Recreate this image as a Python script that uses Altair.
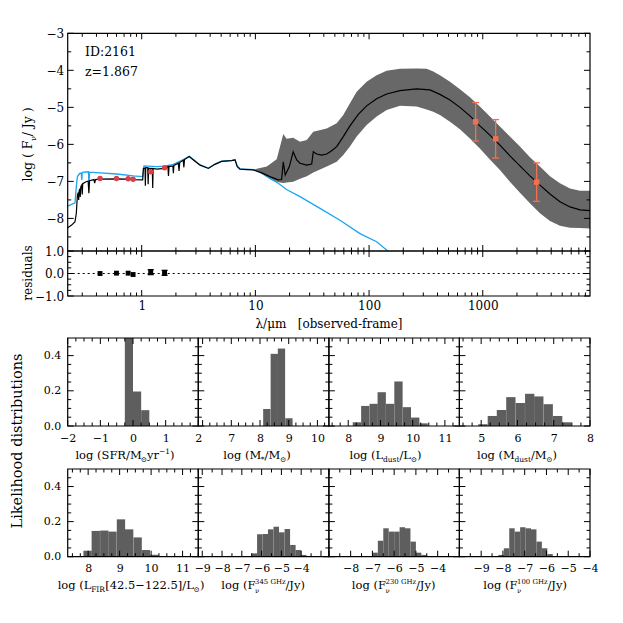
import math
import altair as alt
import pandas as pd

FONT = "DejaVu Serif"
W, H = 605, 600

# ---------------- layout (view pixels) ----------------
X0, X1 = 59.7, 582.0
TOP_Y0, TOP_Y1 = 25.3, 243.0
RES_Y0, RES_Y1 = 243.0, 288.0
COLS = [59.7, 190.3, 320.9, 451.4, 582.0]
ROWS = [(330.0, 418.0), (461.0, 548.7)]
MAJ, MIN = 6.0, 3.5

# ---------------- SED data ----------------
obj_id = "ID:2161"
obj_z = "z=1.867"

sed_lam = [0.2234, 0.242, 0.259, 0.266, 0.272, 0.277, 0.279, 0.282, 0.286, 0.288, 0.291, 0.297, 0.300, 0.303,
           0.324, 0.338, 0.343, 0.348, 0.380, 0.386, 0.392, 0.430, 0.603, 0.762, 0.843, 1.02,
           1.035, 1.07, 1.077, 1.085, 1.13, 1.14, 1.15, 1.24, 1.25, 1.26, 1.355, 1.59,
           1.70, 1.72, 1.74, 1.88, 1.90, 1.92, 2.10, 2.13, 2.16, 2.32, 2.35, 2.38, 2.62, 2.85,
           3.26, 3.86, 4.41, 5.05, 6.19, 6.62, 6.93, 7.32, 8.38, 9.59, 11.4, 13.4, 15.9, 17.0,
           17.6, 18.3, 19.9, 21.5, 23.1, 24.7, 28.3, 31.3, 32.3, 34.6, 38.3, 42.4, 46.9, 51.9,
           59.3, 67.9, 80.4, 95.2, 116.6, 142.8, 187, 262, 343, 420,
           515, 630, 771, 944, 1156, 1416, 1734, 2124, 2601, 3186, 3902, 4779, 5853, 7168, 8778]
sed_logf = [-8.25, -8.18, -8.09, -7.86, -7.37, -7.30, -7.50, -7.25, -7.20, -7.42, -7.15, -7.10, -7.35, -7.06,
            -7.01, -6.99, -7.32, -6.98, -6.95, -7.05, -6.95, -6.94, -6.93, -6.94, -6.95, -6.96,
            -6.65, -6.64, -7.12, -6.63, -6.63, -7.08, -6.64, -6.65, -7.18, -6.65, -6.67, -6.65,
            -6.60, -6.85, -6.60, -6.58, -6.78, -6.57, -6.51, -6.72, -6.49, -6.43, -6.62, -6.41, -6.33, -6.42,
            -6.56, -6.65, -6.54, -6.46, -6.44, -6.42, -6.60, -6.67, -6.68, -6.69, -6.77, -6.87, -6.96, -6.95,
            -6.47, -6.83, -6.60, -6.20, -6.42, -6.51, -6.56, -6.53, -6.20, -6.26, -6.29, -6.26, -6.17, -6.06,
            -5.79, -5.50, -5.19, -4.96, -4.77, -4.64, -4.55, -4.50, -4.53, -4.65,
            -4.80, -5.00, -5.23, -5.50, -5.75, -6.02, -6.31, -6.58, -6.85, -7.10, -7.34, -7.55, -7.69, -7.77, -7.79]

blue_lam = [0.2234, 0.259, 0.266, 0.272, 0.286, 0.294, 0.297, 0.300, 0.307, 0.340, 0.343, 0.348,
            0.430, 0.603, 0.843, 1.02, 1.047, 1.355, 1.59, 1.90, 2.32, 2.62,
            2.85, 3.26, 3.86, 4.41, 5.05, 6.19, 6.62, 6.93, 7.32, 8.38,
            9.59, 11.4, 13.4, 15.9, 18.8, 24.7, 37.0, 55.5, 83.2, 116.6, 146]
blue_logf = [-7.67, -7.58, -7.14, -6.87, -6.78, -6.78, -6.96, -6.76, -6.75, -6.74, -7.04, -6.75,
             -6.77, -6.80, -6.85, -6.87, -6.58, -6.60, -6.59, -6.54, -6.41, -6.32,
             -6.41, -6.55, -6.64, -6.53, -6.45, -6.43, -6.41, -6.59, -6.66, -6.67,
             -6.68, -6.78, -6.92, -7.05, -7.22, -7.41, -7.73, -8.05, -8.41, -8.63, -8.88]

band_lam = [9.59, 10.3, 12.6, 15.4, 16.5, 17.6, 18.8, 21.5, 24.7, 28.3, 32.3,
            42.4, 51.9, 59.3, 67.9, 77.8, 95.2, 116.6, 142.8, 187, 262,
            321, 367, 420, 515, 630, 771, 944, 1156, 1416, 1734,
            2124, 2601, 3186, 3902, 4779, 5853, 7168, 8778]
band_hi = [-6.69, -6.66, -6.60, -6.40, -6.05, -5.72, -5.85, -5.82, -5.93, -5.88, -5.66,
           -5.57, -5.43, -5.21, -4.89, -4.58, -4.31, -4.13, -4.01, -3.96, -3.95,
           -3.96, -4.03, -4.13, -4.31, -4.51, -4.73, -4.98, -5.25, -5.52, -5.79,
           -6.06, -6.35, -6.60, -6.86, -7.05, -7.19, -7.25, -7.25]
band_lo = [-6.70, -6.72, -6.88, -7.01, -7.03, -7.04, -7.03, -7.01, -6.93, -6.86, -6.76,
           -6.60, -6.47, -6.29, -6.06, -5.79, -5.48, -5.25, -5.07, -4.96, -4.98,
           -5.06, -5.12, -5.21, -5.39, -5.59, -5.84, -6.11, -6.41, -6.69, -7.01,
           -7.31, -7.59, -7.86, -8.07, -8.20, -8.25, -8.26, -8.27]

phot_lam = [0.43, 0.60, 0.76, 0.84, 1.20, 1.59]
phot_logf = [-6.92, -6.92, -6.93, -6.94, -6.74, -6.63]
res_val = [0.0, 0.015, 0.015, -0.045, 0.06, 0.03]
res_err = [0.02, 0.02, 0.02, 0.02, 0.11, 0.11]

submm_lam = [866, 1298, 2979]
submm_logf = [-5.39, -5.85, -7.02]
submm_err = [0.52, 0.52, 0.52]

# ---------------- likelihood distributions ----------------
sfr_lo = [-0.25, 0.0, 0.25]
sfr_p = [0.714, 0.196, 0.090]
mstar_lo = [8.11, 8.37, 8.62, 8.88]
mstar_p = [0.097, 0.410, 0.440, 0.044]
ldust_lo = [8.14, 8.40, 8.66, 8.91, 9.17, 9.43, 9.69, 9.95, 10.21]
ldust_p = [0.021, 0.114, 0.126, 0.192, 0.126, 0.253, 0.107, 0.048, 0.015]
mdust_lo = [4.92, 5.18, 5.43, 5.69, 5.95, 6.21, 6.46, 6.72, 6.98, 7.23]
mdust_p = [0.010, 0.057, 0.091, 0.164, 0.130, 0.183, 0.168, 0.124, 0.057, 0.021]
lfir_lo = [7.85, 8.11, 8.38, 8.64, 8.91, 9.17, 9.44, 9.70, 9.97]
lfir_p = [0.034, 0.147, 0.149, 0.143, 0.213, 0.156, 0.110, 0.038, 0.011]
f345_lo = [-6.51, -6.23, -5.95, -5.68, -5.40, -5.12, -4.84, -4.56, -4.29, -4.01]
f345_p = [0.019, 0.128, 0.130, 0.156, 0.171, 0.139, 0.158, 0.067, 0.038, 0.010]
f230_lo = [-7.00, -6.75, -6.50, -6.25, -6.00, -5.75, -5.50, -5.25, -5.00, -4.75]
f230_p = [0.023, 0.091, 0.162, 0.143, 0.143, 0.168, 0.162, 0.086, 0.023, 0.010]
f100_lo = [-8.21, -7.96, -7.71, -7.46, -7.21, -6.96, -6.71, -6.46, -6.21, -5.96]
f100_p = [0.010, 0.048, 0.162, 0.143, 0.168, 0.162, 0.156, 0.086, 0.048, 0.015]

hist_lo = [sfr_lo, mstar_lo, ldust_lo, mdust_lo, lfir_lo, f345_lo, f230_lo, f100_lo]
hist_p = [sfr_p, mstar_p, ldust_p, mdust_p, lfir_p, f345_p, f230_p, f100_p]
hist_w = [0.25, 0.255, 0.258, 0.257, 0.265, 0.278, 0.25, 0.25]
hist_dom = [[-2, 2], [5.85, 10.4], [7.4, 11.45], [4.4, 8.0],
            [7.35, 11.5], [-9.2, -2.6], [-9.0, -3.0], [-10.0, -4.0]]
hist_labels = [[-2, -1, 0, 1, 2], [7, 8, 9, 10], [8, 9, 10, 11], [5, 6, 7, 8],
               [8, 9, 10, 11], [-9, -8, -7, -6, -5, -4], [-8, -7, -6, -5, -4], [-9, -8, -7, -6, -5, -4]]
hist_minor = [0.25, 0.25, 0.25, 0.25, 0.25, 0.5, 0.5, 0.5]
hist_titles = [
    [('n', 'log (SFR/M'), ('sub', '⊙'), ('n', 'yr'), ('sup', '−1'), ('n', ')')],
    [('n', 'log (M'), ('sub', '*'), ('n', '/M'), ('sub', '⊙'), ('n', ')')],
    [('n', 'log (L'), ('sub', 'dust'), ('n', '/L'), ('sub', '⊙'), ('n', ')')],
    [('n', 'log (M'), ('sub', 'dust'), ('n', '/M'), ('sub', '⊙'), ('n', ')')],
    [('n', 'log (L'), ('sub', 'FIR'), ('n', '[42.5−122.5]/L'), ('sub', '⊙'), ('n', ')')],
    [('n', 'log (F'), ('subsup', 'ν', '345 GHz'), ('n', '/Jy)')],
    [('n', 'log (F'), ('subsup', 'ν', '230 GHz'), ('n', '/Jy)')],
    [('n', 'log (F'), ('subsup', 'ν', '100 GHz'), ('n', '/Jy)')],
]
title_cx = [117, 249, 377.5, 509, 123, 255.5, 386, 517.5]
title_cy = [447, 577]

DUMMY = pd.DataFrame({'d': [0]})

# ---------------- helpers ----------------
W_EM = {' ': 0.318, '(': 0.39, ')': 0.39, '[': 0.39, ']': 0.39, '/': 0.337, '-': 0.338, '−': 0.838,
        '.': 0.318, ':': 0.337, '=': 0.838, '*': 0.5, 'l': 0.32, 'o': 0.602, 'g': 0.635, 'S': 0.685,
        'F': 0.674, 'R': 0.734, 'M': 0.995, 'L': 0.648, 'y': 0.565, 'r': 0.478, 'd': 0.64, 'u': 0.644,
        's': 0.513, 't': 0.402, 'G': 0.775, 'H': 0.872, 'z': 0.525, 'J': 0.472, 'ν': 0.56, '⊙': 0.838,
        'I': 0.47, 'i': 0.32, 'k': 0.6, 'h': 0.644, 'e': 0.592, 'b': 0.64, 'n': 0.644, 'a': 0.596}
for _c in '0123456789':
    W_EM[_c] = 0.636


def tw(s, fs):
    return sum(W_EM.get(c, 0.6) for c in s) * fs


def rich(segments, cx, cy, fs, angle=0):
    pieces = []
    pos = 0.0
    for seg in segments:
        kind = seg[0]
        if kind == 'n':
            pieces.append((pos, 0.0, seg[1], fs))
            pos += tw(seg[1], fs)
        elif kind == 'sub':
            s = fs * 0.65
            pieces.append((pos, 0.3 * fs, seg[1], s))
            pos += tw(seg[1], s)
        elif kind == 'sup':
            s = fs * 0.65
            pieces.append((pos, -0.42 * fs, seg[1], s))
            pos += tw(seg[1], s)
        else:
            s = fs * 0.6
            pieces.append((pos, 0.32 * fs, seg[1], s))
            pieces.append((pos, -0.45 * fs, seg[2], s))
            pos += max(tw(seg[1], s), tw(seg[2], s))
    total = pos
    base = 0.35 * fs
    out = []
    for off, shift, txt, size in pieces:
        if angle == 0:
            x, y = cx - total / 2 + off, cy + base + shift
        else:
            x, y = cx + base + shift, cy + total / 2 - off
        out.append(alt.Chart(DUMMY).mark_text(text=txt, font=FONT, fontSize=size, align='left',
                                              baseline='alphabetic', angle=angle, color='black')
                   .encode(x=alt.value(x), y=alt.value(y)))
    return out


def steps(a, b, step, skip_int=False):
    k0 = math.ceil(a / step - 1e-9)
    k1 = math.floor(b / step + 1e-9)
    vals = [round(k * step, 6) for k in range(k0, k1 + 1)]
    if skip_int:
        vals = [v for v in vals if abs(v - round(v)) > 1e-6]
    return vals


def rule_x(vals, xs, ya, yb):
    return alt.Chart(pd.DataFrame({'v': vals})).mark_rule(color='black', strokeWidth=1).encode(
        x=alt.X('v:Q', scale=xs, axis=None), y=alt.value(ya), y2=alt.value(yb))


def rule_y(vals, ys, xa, xb):
    return alt.Chart(pd.DataFrame({'v': vals})).mark_rule(color='black', strokeWidth=1).encode(
        y=alt.Y('v:Q', scale=ys, axis=None), x=alt.value(xa), x2=alt.value(xb))


def frame(xs, ys, xmaj, xmin, ymaj, ymin, x0, x1, y0, y1, top=True):
    out = []
    for vals, L in ((xmaj, MAJ), (xmin, MIN)):
        if vals:
            out.append(rule_x(vals, xs, y1, y1 - L))
            if top:
                out.append(rule_x(vals, xs, y0, y0 + L))
    for vals, L in ((ymaj, MAJ), (ymin, MIN)):
        if vals:
            out.append(rule_y(vals, ys, x0, x0 + L))
            out.append(rule_y(vals, ys, x1, x1 - L))
    out.append(alt.Chart(DUMMY).mark_rect(fillOpacity=0, stroke='black', strokeWidth=1.2).encode(
        x=alt.value(x0), x2=alt.value(x1), y=alt.value(y0), y2=alt.value(y1)))
    return out


def x_labels(vals, xs, y_line, fs, pad, fmt):
    ax = alt.Axis(orient='bottom', offset=y_line - H, values=vals, format=fmt, domain=False, ticks=False,
                  tickSize=0, labelPadding=pad, labelFont=FONT, labelFontSize=fs, labelColor='black',
                  labelFlush=False, labelOverlap=False, grid=False, title=None)
    return alt.Chart(pd.DataFrame({'v': vals})).mark_point(opacity=0).encode(
        x=alt.X('v:Q', scale=xs, axis=ax), y=alt.value(y_line))


def y_labels(vals, ys, x_line, fs, pad, fmt):
    ax = alt.Axis(orient='left', offset=-x_line, values=vals, format=fmt, domain=False, ticks=False,
                  tickSize=0, labelPadding=pad, labelFont=FONT, labelFontSize=fs, labelColor='black',
                  labelFlush=False, labelOverlap=False, grid=False, title=None)
    return alt.Chart(pd.DataFrame({'v': vals})).mark_point(opacity=0).encode(
        y=alt.Y('v:Q', scale=ys, axis=ax), x=alt.value(x_line))


def plain_text(txt, x, y, fs, angle=0, align='center'):
    return alt.Chart(DUMMY).mark_text(text=txt, font=FONT, fontSize=fs, align=align, baseline='middle',
                                      angle=angle, color='black').encode(x=alt.value(x), y=alt.value(y))


layers = []

# ---------------- SED panel ----------------
LAM_MIN, LAM_MAX = 0.2234, 8778
xs_top = alt.Scale(type='log', domain=[LAM_MIN, LAM_MAX], range=[X0, X1], nice=False)
ys_top = alt.Scale(domain=[-8.88, -3.0], range=[TOP_Y1, TOP_Y0], nice=False, zero=False)

band_df = pd.DataFrame({'lam': band_lam, 'lo': band_lo, 'hi': band_hi})
sed_df = pd.DataFrame({'lam': sed_lam, 'f': sed_logf})
blue_df = pd.DataFrame({'lam': blue_lam, 'f': blue_logf})
phot_df = pd.DataFrame({'lam': phot_lam, 'f': phot_logf})
sub_df = pd.DataFrame({'lam': submm_lam, 'f': submm_logf, 'e': submm_err})
sub_df['lo'] = sub_df['f'] - sub_df['e']
sub_df['hi'] = sub_df['f'] + sub_df['e']

X_TOP = alt.X('lam:Q', scale=xs_top, axis=None)
layers.append(alt.Chart(band_df).mark_area(color='#686868').encode(
    x=X_TOP, y=alt.Y('lo:Q', scale=ys_top, axis=None), y2='hi:Q'))
layers.append(alt.Chart(blue_df).mark_line(color='#1aa6f0', strokeWidth=1.3).encode(
    x=X_TOP, y=alt.Y('f:Q', scale=ys_top, axis=None)))
layers.append(alt.Chart(sed_df).mark_line(color='black', strokeWidth=1.2).encode(
    x=X_TOP, y=alt.Y('f:Q', scale=ys_top, axis=None)))
layers.append(alt.Chart(phot_df).mark_point(shape='circle', filled=True, size=30, color='#d8414c', opacity=1).encode(
    x=X_TOP, y=alt.Y('f:Q', scale=ys_top, axis=None)))
ORANGE = '#f2704f'
layers.append(alt.Chart(sub_df).mark_rule(color=ORANGE, strokeWidth=1.3).encode(
    x=X_TOP, y=alt.Y('lo:Q', scale=ys_top, axis=None), y2='hi:Q'))
for col in ('lo', 'hi'):
    layers.append(alt.Chart(sub_df).mark_tick(color=ORANGE, thickness=1.3, size=7, orient='horizontal', opacity=1).encode(
        x=X_TOP, y=alt.Y(col + ':Q', scale=ys_top, axis=None)))
layers.append(alt.Chart(sub_df).mark_square(size=30, color=ORANGE, opacity=1).encode(
    x=X_TOP, y=alt.Y('f:Q', scale=ys_top, axis=None)))

layers.append(plain_text(obj_id, 77, 44, 12.5, align='left'))
layers.append(plain_text(obj_z, 77, 63.5, 12.5, align='left'))

log_major = [1, 10, 100, 1000]
log_minor = [m * 10 ** k for k in range(-1, 4) for m in range(2, 10) if LAM_MIN <= m * 10 ** k <= LAM_MAX]
layers += frame(xs_top, ys_top, log_major, log_minor, steps(-8.88, -3, 1), steps(-8.5, -3.5, 0.5, True),
                X0, X1, TOP_Y0, TOP_Y1)
layers.append(y_labels([-8, -7, -6, -5, -4, -3], ys_top, X0, 12, 4, 'd'))
layers += rich([('n', 'log ( F'), ('sub', 'ν'), ('n', ' / Jy )')], 20, 134, 12.5, angle=270)

# ---------------- residual panel ----------------
ys_res = alt.Scale(domain=[-1, 1], range=[RES_Y1, RES_Y0], nice=False, zero=False)
res_df = pd.DataFrame({'lam': phot_lam, 'r': res_val, 'e': res_err})
res_df['lo'] = res_df['r'] - res_df['e']
res_df['hi'] = res_df['r'] + res_df['e']
bars_df = res_df[res_df['e'] > 0.05]
layers.append(alt.Chart(pd.DataFrame({'v': [0]})).mark_rule(color='black', strokeWidth=1, strokeDash=[2, 3]).encode(
    y=alt.Y('v:Q', scale=ys_res, axis=None), x=alt.value(X0), x2=alt.value(X1)))
layers.append(alt.Chart(bars_df).mark_rule(color='black', strokeWidth=1.3).encode(
    x=X_TOP, y=alt.Y('lo:Q', scale=ys_res, axis=None), y2='hi:Q'))
for col in ('lo', 'hi'):
    layers.append(alt.Chart(bars_df).mark_tick(color='black', thickness=1.3, size=6, orient='horizontal', opacity=1).encode(
        x=X_TOP, y=alt.Y(col + ':Q', scale=ys_res, axis=None)))
layers.append(alt.Chart(res_df).mark_square(size=24, color='black', opacity=1).encode(
    x=X_TOP, y=alt.Y('r:Q', scale=ys_res, axis=None)))
layers += frame(xs_top, ys_res, log_major, log_minor, [-1, 0, 1], [-0.75, -0.5, -0.25, 0.25, 0.5, 0.75],
                X0, X1, RES_Y0, RES_Y1)
layers.append(y_labels([-1, 0, 1], ys_res, X0, 12, 4, '.1f'))
layers.append(x_labels(log_major, xs_top, RES_Y1, 12, 4, 'd'))
layers.append(plain_text('λ/μm\u00a0\u00a0\u00a0[observed-frame]', 321, 316, 12))
layers.append(plain_text('residuals', 20, 265, 12, angle=270))

# ---------------- histograms ----------------
for i in range(8):
    c, r = i % 4, i // 4
    x0, x1 = COLS[c], COLS[c + 1]
    y0, y1 = ROWS[r]
    dom = hist_dom[i]
    xs = alt.Scale(domain=dom, range=[x0, x1], nice=False, zero=False)
    ys = alt.Scale(domain=[0, 0.5], range=[y1, y0], nice=False, zero=False, clamp=True)
    hdf = pd.DataFrame({'lo': hist_lo[i], 'p': hist_p[i]})
    hdf['hi'] = hdf['lo'] + hist_w[i]
    hdf['z'] = 0.0
    layers.append(alt.Chart(hdf).mark_rect(color='#5e5e5e').encode(
        x=alt.X('lo:Q', scale=xs, axis=None), x2='hi:Q',
        y=alt.Y('p:Q', scale=ys, axis=None), y2='z:Q'))
    layers += frame(xs, ys, steps(dom[0], dom[1], 1), steps(dom[0], dom[1], hist_minor[i], True),
                    [0, 0.2, 0.4], [0.05, 0.1, 0.15, 0.25, 0.3, 0.35, 0.45], x0, x1, y0, y1)
    layers.append(x_labels(hist_labels[i], xs, y1, 11, 6, 'd'))
    if c == 0:
        layers.append(y_labels([0, 0.2, 0.4], ys, x0, 11, 7, '.1f'))
    layers += rich(hist_titles[i], title_cx[i], title_cy[r], 11.5)

layers.append(plain_text('Likelihood distributions', 10, 433, 14.5, angle=270))

chart = alt.layer(*layers).resolve_scale(x='independent', y='independent').properties(
    width=W, height=H, padding=0, autosize=alt.AutoSizeParams(type='none')
).configure_view(strokeOpacity=0)

chart.save("out.html", embed_options={"renderer": "svg", "actions": False})
